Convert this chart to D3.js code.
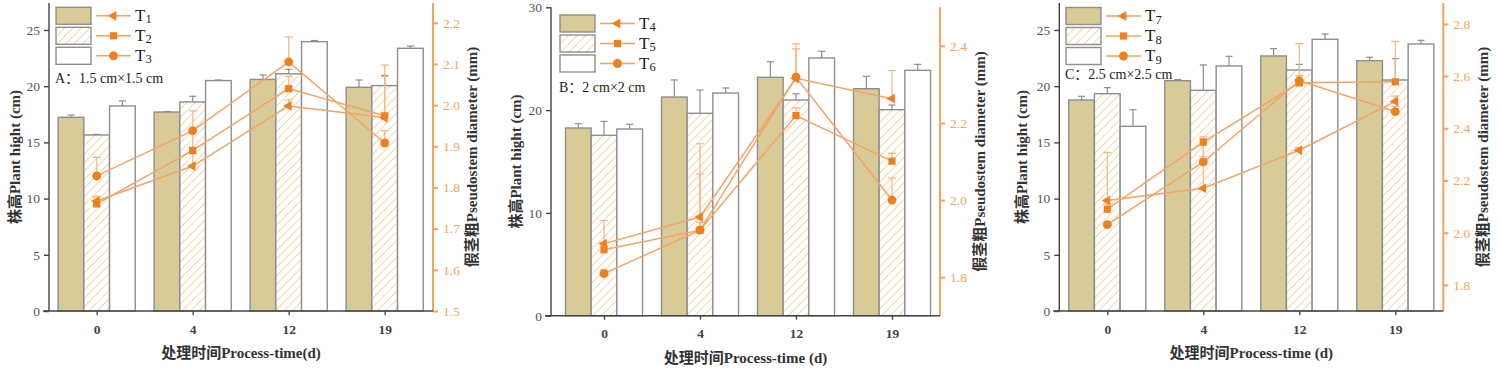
<!DOCTYPE html>
<html>
<head>
<meta charset="utf-8">
<script src="https://cdn.jsdelivr.net/npm/d3@7"></script>
<style>
  body { margin: 0; background: #fff; }
  svg { display: block; }
  text { font-family: "Liberation Serif", "Noto Sans CJK SC", serif; }
</style>
</head>
<body>
<div id="graph"></div>
<script>
// data

var days = ["0", "4", "12", "19"];

var namesA = ["T1", "T2", "T3"];
var namesB = ["T4", "T5", "T6"];
var namesC = ["T7", "T8", "T9"];

// plant height (cm), bars
var heightA = [[17.23, 17.7, 20.6, 19.9], [15.66, 18.6, 21.1, 20.05], [18.24, 20.5, 23.96, 23.37]];
var heightErrA = [[0.2, 0.05, 0.4, 0.65], [0.05, 0.5, 0.4, 0.9], [0.45, 0.05, 0.1, 0.2]];
var heightB = [[18.26, 21.27, 23.19, 22.08], [17.55, 19.69, 20.98, 20.04], [18.16, 21.66, 25.07, 23.87]];
var heightErrB = [[0.42, 1.66, 1.52, 1.21], [1.35, 2.26, 0.6, 0.45], [0.46, 0.49, 0.65, 0.58]];
var heightC = [[18.77, 20.49, 22.69, 22.27], [19.33, 19.63, 21.44, 20.55], [16.43, 21.8, 24.17, 23.75]];
var heightErrC = [[0.33, 0.1, 0.65, 0.3], [0.54, 2.26, 0.5, 1.9], [1.48, 0.86, 0.47, 0.33]];

// pseudostem diameter (mm), lines
var diamA = [[1.767, 1.852, 1.998, 1.97], [1.76, 1.89, 2.04, 1.974], [1.828, 1.938, 2.105, 1.908]];
var diamErrA = [[0.012, 0.03, 0.015, 0.1], [0.015, 0.05, 0.03, 0.123], [0.045, 0.048, 0.06, 0.03]];
var diamB = [[1.887, 1.956, 2.316, 2.263], [1.871, 1.922, 2.219, 2.101], [1.809, 1.922, 2.319, 2.0]];
var diamErrB = [[0.06, 0.19, 0.076, 0.073], [0.01, 0.146, 0.02, 0.02], [0.01, 0.02, 0.086, 0.057]];
var diamC = [[2.123, 2.17, 2.316, 2.503], [2.09, 2.347, 2.574, 2.578], [2.031, 2.271, 2.582, 2.464]];
var diamErrC = [[0.185, 0.19, 0.01, 0.02], [0.02, 0.02, 0.15, 0.155], [0.01, 0.02, 0.02, 0.02]];

// tick labels
var hTicksA = [0, 5, 10, 15, 20, 25];
var hTicksB = [0, 10, 20, 30];
var hTicksC = [0, 5, 10, 15, 20, 25];
var dTicksA = [1.5, 1.6, 1.7, 1.8, 1.9, 2.0, 2.1, 2.2];
var dTicksB = [1.8, 2.0, 2.2, 2.4];
var dTicksC = [1.8, 2.0, 2.2, 2.4, 2.6, 2.8];

var labels = ["A：1.5 cm×1.5 cm", "B：2 cm×2 cm", "C：2.5 cm×2.5 cm"];
var xTitles = ["处理时间Process-time(d)", "处理时间Process-time (d)", "处理时间Process-time (d)"];

// layout per panel
var panels = [
  { names: namesA, h: heightA, he: heightErrA, d: diamA, de: diamErrA, hTicks: hTicksA, dTicks: dTicksA,
    hDom: [0, 27.4], dDom: [1.5, 2.248], left: 49, right: 433, top: 3, bottom: 311,
    tick0: 96.7, legX: 56, legY: 7.3, labY: 83, yTitleX: 15, rTitleX: 472, xTitleY: 358 },
  { names: namesB, h: heightB, he: heightErrB, d: diamB, de: diamErrB, hTicks: hTicksB, dTicks: dTicksB,
    hDom: [0, 30], dDom: [1.7, 2.5], left: 551, right: 940, top: 7.3, bottom: 315.7,
    tick0: 604, legX: 560, legY: 15, labY: 92, yTitleX: 516, rTitleX: 980, xTitleY: 363 },
  { names: namesC, h: heightC, he: heightErrC, d: diamC, de: diamErrC, hTicks: hTicksC, dTicks: dTicksC,
    hDom: [0, 27.4], dDom: [1.7, 2.88], left: 1059.3, right: 1443.3, top: 3, bottom: 311,
    tick0: 1107.3, legX: 1066, legY: 7.5, labY: 79, yTitleX: 1022, rTitleX: 1483, xTitleY: 358 }
];

var W = 1500, H = 371;
var step = 96, barW = 25.7;
var barStroke = "#8e8e8e", khaki = "#d9cb97", hatch = "#ecd29e";
var lineCol = "#f4a366", markCol = "#f07f1e", errCol = "#f7b585", axisOrange = "#f4a461";
var markers = [
  d3.symbol().type(d3.symbolTriangle).size(42),
  d3.symbol().type(d3.symbolSquare).size(52),
  d3.symbol().type(d3.symbolCircle).size(62)
];

var vis = d3.select("#graph").append("svg").attr("width", W).attr("height", H);

var defs = vis.append("defs");
var pat = defs.append("pattern").attr("id", "hatch").attr("patternUnits", "userSpaceOnUse")
  .attr("width", 6).attr("height", 6).attr("patternTransform", "rotate(45)");
pat.append("rect").attr("width", 6).attr("height", 6).attr("fill", "#fff");
pat.append("line").attr("x1", 0).attr("y1", 0).attr("x2", 0).attr("y2", 6)
  .attr("stroke", hatch).attr("stroke-width", 1.7);

var fills = [khaki, "url(#hatch)", "#fff"];

function markerPath(i) {
  return markers[i]();
}
function markerRot(i) { return i === 0 ? " rotate(-90)" : ""; }

panels.forEach(function (p, pi) {
  var g = vis.append("g");
  var x = d3.scalePoint().domain(days).range([p.tick0, p.tick0 + step * (days.length - 1)]);
  var yL = d3.scaleLinear().domain(p.hDom).range([p.bottom, p.top]);
  var yR = d3.scaleLinear().domain(p.dDom).range([p.bottom, p.top]);
  var inner = d3.scaleBand().domain([0, 1, 2]).range([-barW * 1.5, barW * 1.5]);

  // bars
  p.h.forEach(function (vals, si) {
    var rows = vals.map(function (v, k) { return { day: days[k], v: v, e: p.he[si][k] }; });
    g.selectAll(null).data(rows).enter().append("line")
      .attr("x1", function (d) { return x(d.day) + inner(si) + barW / 2; })
      .attr("x2", function (d) { return x(d.day) + inner(si) + barW / 2; })
      .attr("y1", function (d) { return yL(d.v); })
      .attr("y2", function (d) { return yL(d.v + d.e); })
      .attr("stroke", barStroke).attr("stroke-width", 1.2);
    g.selectAll(null).data(rows).enter().append("line")
      .attr("x1", function (d) { return x(d.day) + inner(si) + barW / 2 - 3.5; })
      .attr("x2", function (d) { return x(d.day) + inner(si) + barW / 2 + 3.5; })
      .attr("y1", function (d) { return yL(d.v + d.e); })
      .attr("y2", function (d) { return yL(d.v + d.e); })
      .attr("stroke", barStroke).attr("stroke-width", 1.2);
    g.selectAll(null).data(rows).enter().append("rect")
      .attr("x", function (d) { return x(d.day) + inner(si); })
      .attr("y", function (d) { return yL(d.v); })
      .attr("width", barW)
      .attr("height", function (d) { return yL(0) - yL(d.v); })
      .attr("fill", fills[si]).attr("stroke", barStroke).attr("stroke-width", 1.4);
  });

  // line error bars (plus side only)
  p.d.forEach(function (vals, si) {
    var rows = vals.map(function (v, k) { return { day: days[k], v: v, e: p.de[si][k] }; });
    g.selectAll(null).data(rows).enter().append("path")
      .attr("d", function (d) {
        var cx = x(d.day), y0 = yR(d.v), y1 = yR(d.v + d.e);
        return "M" + cx + "," + y0 + "V" + y1 + "M" + (cx - 4) + "," + y1 + "H" + (cx + 4);
      })
      .attr("fill", "none").attr("stroke", errCol).attr("stroke-width", 1.2);
  });

  // lines
  var line = d3.line().x(function (d, k) { return x(days[k]); }).y(function (d) { return yR(d); });
  p.d.forEach(function (vals, si) {
    g.append("path").datum(vals).attr("d", line)
      .attr("fill", "none").attr("stroke", lineCol).attr("stroke-width", 1.5);
  });
  p.d.forEach(function (vals, si) {
    g.selectAll(null).data(vals).enter().append("path")
      .attr("d", markerPath(si))
      .attr("transform", function (d, k) { return "translate(" + x(days[k]) + "," + yR(d) + ")" + markerRot(si); })
      .attr("fill", markCol);
  });

  // axes
  var axL = g.append("g").attr("transform", "translate(" + p.left + ",0)")
    .call(d3.axisLeft(yL).tickValues(p.hTicks).tickSize(5).tickPadding(4).tickFormat(d3.format("d")));
  axL.select(".domain").attr("d", "M0," + p.bottom + "V" + p.top);
  axL.selectAll("line, path").attr("stroke", "#444").attr("stroke-width", 1.4);
  axL.selectAll("text").attr("fill", "#555").attr("font-size", 13.5).attr("font-family", "Liberation Serif");

  var axR = g.append("g").attr("transform", "translate(" + p.right + ",0)")
    .call(d3.axisRight(yR).tickValues(p.dTicks).tickSize(5).tickPadding(5).tickFormat(d3.format(".1f")));
  axR.select(".domain").attr("d", "M0," + p.bottom + "V" + p.top);
  axR.selectAll("line, path").attr("stroke", axisOrange).attr("stroke-width", 2);
  axR.selectAll("text").attr("fill", axisOrange).attr("font-size", 13.5).attr("font-family", "Liberation Serif");

  var axB = g.append("g").attr("transform", "translate(0," + p.bottom + ")")
    .call(d3.axisBottom(x).tickSize(4).tickPadding(9));
  axB.select(".domain").attr("d", "M" + (p.left - 6) + ",0H" + p.right);
  axB.selectAll("line, path").attr("stroke", "#444").attr("stroke-width", 1.4);
  axB.selectAll("text").attr("fill", "#444").attr("font-size", 13.5).attr("font-weight", "bold")
    .attr("font-family", "Liberation Serif");

  // titles
  g.append("text").attr("x", (p.left + p.right) / 2).attr("y", p.xTitleY)
    .attr("text-anchor", "middle").attr("font-size", 15).attr("font-weight", "bold").attr("fill", "#333")
    .text(xTitles[pi]);
  g.append("text").attr("transform", "translate(" + p.yTitleX + "," + (p.top + p.bottom) / 2 + ") rotate(-90)")
    .attr("text-anchor", "middle").attr("dominant-baseline", "central")
    .attr("font-size", 15).attr("font-weight", "bold").attr("fill", "#333")
    .text("株高Plant hight (cm)");
  g.append("text").attr("transform", "translate(" + p.rTitleX + "," + (p.top + p.bottom) / 2 + ") rotate(-90)")
    .attr("text-anchor", "middle").attr("dominant-baseline", "central")
    .attr("font-size", 15).attr("font-weight", "bold").attr("fill", "#333")
    .text("假茎粗Pseudostem diameter (mm)");

  // legend
  var leg = g.append("g").attr("transform", "translate(" + p.legX + "," + p.legY + ")");
  p.names.forEach(function (nm, si) {
    var row = leg.append("g").attr("transform", "translate(0," + si * 20 + ")");
    row.append("rect").attr("width", 35).attr("height", 17)
      .attr("fill", fills[si]).attr("stroke", barStroke).attr("stroke-width", 1.4);
    row.append("line").attr("x1", 40).attr("x2", 75).attr("y1", 8.5).attr("y2", 8.5)
      .attr("stroke", lineCol).attr("stroke-width", 1.5);
    row.append("path").attr("d", markerPath(si))
      .attr("transform", "translate(57.5,8.5)" + markerRot(si)).attr("fill", markCol);
    var t = row.append("text").attr("x", 79).attr("y", 13.5).attr("font-size", 17).attr("fill", "#222");
    t.append("tspan").text(nm.charAt(0));
    t.append("tspan").attr("font-size", 12.5).attr("dy", 2.5).text(nm.slice(1));
  });
  g.append("text").attr("x", p.legX - 1).attr("y", p.labY).attr("font-size", 14).attr("fill", "#222")
    .text(labels[pi]);
});
</script>
</body>
</html>
